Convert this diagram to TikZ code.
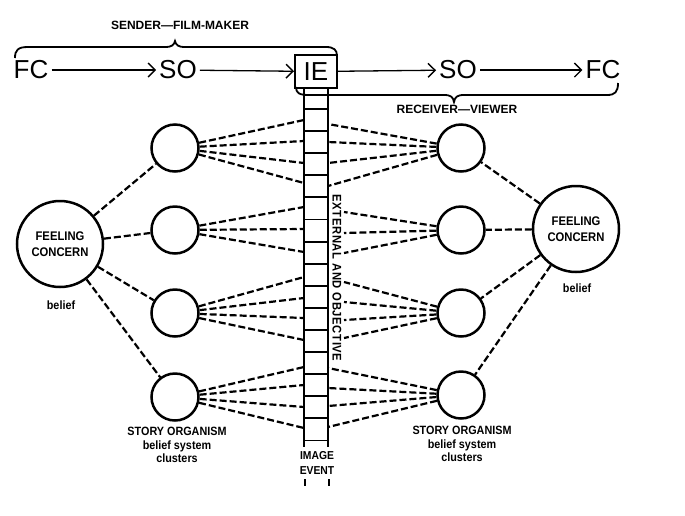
\documentclass[tikz,border=0pt]{standalone}
\usepackage{fontspec}
\setmainfont{Liberation Sans}
\newfontfamily\condf[FakeStretch=0.9]{Liberation Sans}
\newfontfamily\spacedf[FakeStretch=0.9,LetterSpace=5]{Liberation Sans}
\usetikzlibrary{arrows.meta}
\begin{document}
\begin{tikzpicture}[x=1pt,y=-1pt,
 sc/.style={circle,draw,line width=2.5pt,minimum size=47pt,inner sep=0pt},
 bc/.style={circle,draw,line width=2.5pt,minimum size=86pt,inner sep=0pt,align=center,font=\condf\bfseries\fontsize{12.5}{16}\selectfont},
 lnk/.style={line width=2.2pt,dash pattern=on 7pt off 3pt},
 lbl/.style={font=\condf\bfseries\fontsize{12}{13.5}\selectfont,align=center,inner sep=0pt},
 hdr/.style={font=\bfseries\fontsize{12}{12}\selectfont,inner sep=0pt},
 big/.style={font=\fontsize{26}{26}\selectfont,inner sep=3pt},
 arr/.style={line width=1.3pt,-{Straight Barb[length=7pt,width=14pt,line width=1.4pt]}},
 rail/.style={line width=1.9pt},
 brace/.style={line width=1.8pt}]
\useasboundingbox (0,0) rectangle (685,515);

% top row
\node[big] (FC1) at (31,70) {FC};
\node[big] (SO1) at (178,70) {SO};
\node[big,draw,line width=2pt,minimum width=42pt,minimum height=33pt,inner sep=0pt] (IE) at (316,71.5) {IE};
\node[big] (SO2) at (458,70) {SO};
\node[big] (FC2) at (603,70) {FC};
\draw[arr] (FC1) -- (SO1);
\draw[arr] (SO1) -- (IE);
\draw[arr] (IE) -- (SO2);
\draw[arr] (SO2) -- (FC2);

% braces and labels
\node[hdr] (snd) at (180,25) {SENDER—FILM-MAKER};
\draw[brace] (15,58) .. controls (15,50) and (18,47) .. (28,47) -- (165,47)
  .. controls (172,47) and (174,45) .. (175,41) .. controls (176,45) and (178,47) .. (185,47)
  -- (326,47) .. controls (334,47) and (337,50) .. (337,56);
\draw[brace] (296,87) .. controls (296,93) and (299,95) .. (309,95) -- (444,95)
  .. controls (451,95) and (453,97) .. (454,102) .. controls (455,97) and (457,95) .. (464,95)
  -- (607,95) .. controls (615,95) and (618,92) .. (618,83);
\node[hdr] (rcv) at (457,109) {RECEIVER—VIEWER};

% column
\draw[rail] (304,88) -- (304,447);
\draw[rail] (328,88) -- (328,447);
\foreach \i in {0,...,15} \draw[rail] (304,{109+22.1*\i}) -- (328,{109+22.1*\i});
\draw[rail] (305,479) -- (305,486);
\draw[rail] (329,479) -- (329,486);
\node[lbl,font=\condf\bfseries\fontsize{11.5}{14.5}\selectfont] (imev) at (317,463) {IMAGE\\EVENT};
\node[lbl,font=\spacedf\bfseries\fontsize{12.5}{12.5}\selectfont,rotate=-90] (ext) at (337,278) {EXTERNAL AND OBJECTIVE};

% circles
\node[bc] (BL) at (60,244) {FEELING\\CONCERN};
\node[bc] (BR) at (576,229) {FEELING\\CONCERN};
\node[lbl] (bl1) at (61,305) {belief};
\node[lbl] (br1) at (577,288) {belief};
\node[sc] (L1) at (175,148) {};
\node[sc] (L2) at (175,230) {};
\node[sc] (L3) at (175,313) {};
\node[sc] (L4) at (175,397) {};
\node[sc] (R1) at (461,148) {};
\node[sc] (R2) at (461,230) {};
\node[sc] (R3) at (461,313) {};
\node[sc] (R4) at (461,395) {};
\node[lbl] (sl) at (177,445) {STORY ORGANISM\\belief system\\clusters};
\node[lbl] (sr) at (462,444) {STORY ORGANISM\\belief system\\clusters};

% big to small
\foreach \s in {L1,L2,L3,L4} \draw[lnk] (BL) -- (\s);
\foreach \s in {R1,R2,R3,R4} \draw[lnk] (BR) -- (\s);

% small to column, left
\foreach \n/\y in {a/120,b/141,c/163,d/183} {\coordinate (l1\n) at (304,\y); \draw[lnk] (L1) -- (l1\n);}
\foreach \n/\y in {a/207,b/229,c/252} {\coordinate (l2\n) at (304,\y); \draw[lnk] (L2) -- (l2\n);}
\foreach \n/\y in {a/277,b/298,c/318,d/340} {\coordinate (l3\n) at (304,\y); \draw[lnk] (L3) -- (l3\n);}
\foreach \n/\y in {a/367,b/385,c/407,d/428} {\coordinate (l4\n) at (304,\y); \draw[lnk] (L4) -- (l4\n);}
% right
\foreach \n/\y in {a/124,b/142,c/163,d/186} {\coordinate (r1\n) at (328,\y); \draw[lnk] (R1) -- (r1\n);}
\foreach \n/\y in {a/212,b/233,c/253} {\coordinate (r2\n) at (344,\y); \draw[lnk] (R2) -- (r2\n);}
\foreach \n/\y in {a/282,b/302,c/320,d/338} {\coordinate (r3\n) at (344,\y); \draw[lnk] (R3) -- (r3\n);}
\foreach \n/\y in {a/368,b/388,c/406,d/427} {\coordinate (r4\n) at (328,\y); \draw[lnk] (R4) -- (r4\n);}
\end{tikzpicture}
\end{document}
